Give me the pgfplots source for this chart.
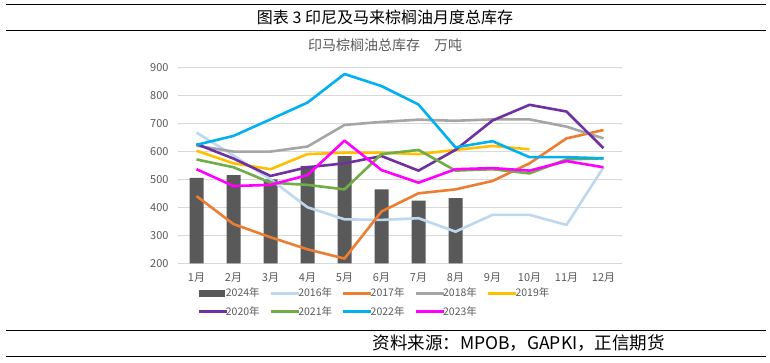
\documentclass[border=0pt]{standalone}
\usepackage{fontspec}
\setmainfont{Noto Sans CJK SC}
\usepackage{pgfplots}
\pgfplotsset{compat=1.18}
\definecolor{c2024}{HTML}{595959}
\definecolor{c2016}{HTML}{BDD7EE}
\definecolor{c2017}{HTML}{ED7D31}
\definecolor{c2018}{HTML}{A5A5A5}
\definecolor{c2019}{HTML}{FFC000}
\definecolor{c2020}{HTML}{7030A0}
\definecolor{c2021}{HTML}{70AD47}
\definecolor{c2022}{HTML}{00B0F0}
\definecolor{c2023}{HTML}{FF00FF}
\definecolor{txtgray}{HTML}{595959}
\definecolor{gridgray}{HTML}{D9D9D9}
\begin{document}
\begin{tikzpicture}[x=1pt,y=1pt]
\path[use as bounding box] (0,0) rectangle (770,362);
% heading
\draw[line width=1pt] (6,357.7) -- (766,357.7);
\draw[line width=1pt] (6,331.7) -- (766,331.7);
\node[font=\fontsize{16}{16}\selectfont] at (385,344.5) {图表 3 印尼及马来棕榈油月度总库存};
\draw[line width=1pt] (6,31.3) -- (766,31.3);
\draw[line width=1pt] (6,6) -- (766,6);
\node[font=\fontsize{17.5}{17.5}\selectfont, anchor=west] at (369,18.5) {资料来源：MPOB，GAPKI，正信期货};
\node[font=\fontsize{14}{14}\selectfont, text=txtgray] at (385,317) {印马棕榈油总库存\quad 万吨};
\begin{axis}[
  at={(178pt,98.7pt)}, anchor=south west,
  scale only axis, width=444pt, height=196pt,
  xmin=0.5, xmax=12.5, ymin=200, ymax=900,
  xtick={1,...,12},
  xticklabels={1月,2月,3月,4月,5月,6月,7月,8月,9月,10月,11月,12月},
  ytick={200,300,...,900},
  ymajorgrids, grid style={gridgray, line width=0.8pt},
  axis line style={draw=none},
  axis x line*=bottom,
  x axis line style={gridgray, line width=0.8pt},
  major tick length=0pt,
  tick label style={font=\fontsize{11}{11}\selectfont, text=txtgray},
  /pgf/number format/assume math mode=true,
  xticklabel style={yshift=-6pt},
  yticklabel style={xshift=-6pt},
  legend columns=5,
  legend cell align=left,
  legend style={at={(0.043,-0.12)}, anchor=north west, draw=none, fill=none,
    font=\fontsize{10.5}{10.5}\selectfont, text=txtgray, inner sep=0pt,
    nodes={inner xsep=1pt, inner ysep=1pt},
    /tikz/every odd column/.append style={column sep=-3pt},
    /tikz/every even column/.append style={column sep=9pt},
    row sep=6pt},
  every axis plot/.append style={line width=2.6pt, line join=round},
  legend image code/.code={\draw[#1] (0pt,0pt) -- (28pt,0pt);},
]
\addplot[ybar, bar width=14pt, fill=c2024, draw=none,
  legend image code/.code={\fill[c2024] (0pt,-3.5pt) rectangle (26pt,3.5pt);}]
  coordinates {(1,505)(2,515)(3,500)(4,548)(5,583)(6,464)(7,424)(8,433)};
\addlegendentry{2024年}
\addplot[c2016] coordinates {(1,667)(2,585)(3,500)(4,400)(5,357)(6,355)(7,361)(8,313)(9,373)(10,373)(11,337)(12,543)};
\addlegendentry{2016年}
\addplot[c2017] coordinates {(1,440)(2,340)(3,293)(4,250)(5,217)(6,385)(7,450)(8,464)(9,494)(10,557)(11,646)(12,676)};
\addlegendentry{2017年}
\addplot[c2018] coordinates {(1,620)(2,599)(3,599)(4,617)(5,694)(6,705)(7,713)(8,709)(9,714)(10,714)(11,688)(12,646)};
\addlegendentry{2018年}
\addplot[c2019] coordinates {(1,602)(2,557)(3,536)(4,590)(5,595)(6,595)(7,590)(8,605)(9,619)(10,607)};
\addlegendentry{2019年}
\addplot[c2020] coordinates {(1,626)(2,574)(3,512)(4,543)(5,557)(6,583)(7,531)(8,605)(9,710)(10,766)(11,742)(12,611)};
\addlegendentry{2020年}
\addplot[c2021] coordinates {(1,571)(2,543)(3,488)(4,480)(5,464)(6,590)(7,605)(8,531)(9,536)(10,521)(11,571)(12,575)};
\addlegendentry{2021年}
\addplot[c2022] coordinates {(1,623)(2,655)(3,714)(4,774)(5,876)(6,833)(7,767)(8,614)(9,636)(10,579)(11,579)(12,575)};
\addlegendentry{2022年}
\addplot[c2023] coordinates {(1,536)(2,476)(3,480)(4,515)(5,638)(6,533)(7,488)(8,536)(9,540)(10,531)(11,565)(12,543)};
\addlegendentry{2023年}
\end{axis}
\end{tikzpicture}
\end{document}
